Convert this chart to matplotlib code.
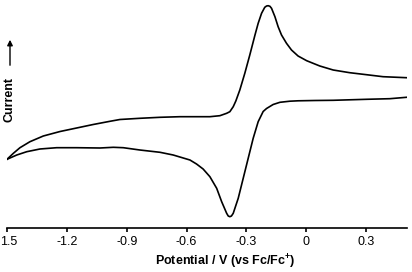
import numpy as np
import matplotlib.pyplot as plt
import matplotlib.transforms as mtransforms

plt.rcParams['font.family'] = ['Liberation Sans', 'DejaVu Sans']
plt.rcParams['mathtext.fontset'] = 'custom'
plt.rcParams['mathtext.bf'] = 'Liberation Sans:bold'
plt.rcParams['mathtext.rm'] = 'Liberation Sans'
plt.rcParams['mathtext.default'] = 'bf'

# ================== 数据 ==================
# 正向扫描 (-1.5 V -> 0.5 V)
E_fwd = [-1.50, -1.468, -1.435, -1.385, -1.318, -1.234, -1.151, -1.068, -0.984,
         -0.934, -0.834, -0.733, -0.633, -0.533, -0.483, -0.433, -0.399, -0.383,
         -0.366, -0.353, -0.333, -0.308, -0.283, -0.257, -0.241, -0.224, -0.208,
         -0.199, -0.191, -0.182, -0.174, -0.157, -0.141, -0.124, -0.099, -0.074,
         -0.041, 0.002, 0.043, 0.068, 0.135, 0.218, 0.302, 0.385, 0.502]
I_fwd = [68.7, 74.7, 80.3, 86.3, 92.0, 96.5, 100.0, 103.5, 106.7,
         108.5, 109.7, 110.7, 111.3, 111.3, 111.3, 112.3, 114.7, 116.3,
         121.3, 127.0, 138.0, 154.7, 173.0, 193.0, 204.7, 214.7, 220.7,
         222.0, 222.3, 221.7, 219.7, 211.3, 201.3, 193.0, 184.7, 178.0,
         172.0, 167.3, 164.0, 162.0, 158.0, 155.3, 153.3, 151.3, 150.3]

# 反向扫描 (0.5 V -> -1.5 V)
E_rev = [0.502, 0.419, 0.302, 0.135, 0.043, -0.041, -0.082, -0.132, -0.166,
         -0.199, -0.216, -0.241, -0.266, -0.291, -0.316, -0.341, -0.366, -0.375,
         -0.383, -0.391, -0.399, -0.424, -0.449, -0.483, -0.517, -0.550, -0.583,
         -0.667, -0.733, -0.834, -0.917, -0.967, -1.034, -1.151, -1.251, -1.335,
         -1.401, -1.451, -1.50]
I_rev = [130.7, 129.3, 128.7, 127.7, 127.5, 127.2, 126.8, 125.7, 123.5,
         119.5, 116.5, 106.3, 89.7, 69.7, 49.7, 29.7, 14.7, 12.0,
         11.3, 12.0, 14.7, 26.3, 39.7, 51.3, 59.0, 64.0, 68.0,
         73.0, 75.7, 78.0, 80.3, 80.7, 80.0, 80.3, 80.3, 79.0,
         76.3, 73.0, 68.7]

tick_pos = [-1.5, -1.2, -0.9, -0.6, -0.3, 0, 0.3]
tick_lab = ['1.5', '-1.2', '-0.9', '-0.6', '-0.3', '0', '0.3']

# ================== 绘图 ==================
fig = plt.figure(figsize=(4.12, 2.72), dpi=100)
ax = fig.add_axes([7/412, 1 - 228/272, 400/412, 228/272])

ax.plot(E_fwd, I_fwd, color='black', lw=1.2, solid_joinstyle='round')
ax.plot(E_rev, I_rev, color='black', lw=1.2, solid_joinstyle='round')

ax.set_xlim(-1.5, 0.505)
ax.set_ylim(0, 228)

for s in ['top', 'right', 'left']:
    ax.spines[s].set_visible(False)
ax.spines['bottom'].set_linewidth(1.2)

ax.set_yticks([])
ax.set_xticks(tick_pos)
ax.set_xticklabels(tick_lab)
ax.tick_params(axis='x', direction='out', length=3, width=1.2, pad=3,
               labelsize=9, colors='black')

# 最左边的标签贴着图边
first = ax.get_xticklabels()[0]
first.set_ha('left')
first.set_transform(first.get_transform() +
                    mtransforms.ScaledTranslation(-7/100, 0, fig.dpi_scale_trans))

fig.text(225/412, 1 - 262/272, 'Potential / V (vs Fc/Fc$^{+}$)', ha='center',
         va='center', fontsize=9, fontweight='bold')

fig.text(10/412, 1 - 100/272, 'Current', rotation=90, ha='center', va='center',
         fontsize=9, fontweight='bold')
ax.annotate('', xy=(10/412, 1 - 37/272), xytext=(10/412, 1 - 68/272),
            xycoords='figure fraction', textcoords='figure fraction',
            arrowprops=dict(arrowstyle='-|>', color='black', lw=1.0,
                            mutation_scale=8))

fig.savefig('out.png', dpi=100)
